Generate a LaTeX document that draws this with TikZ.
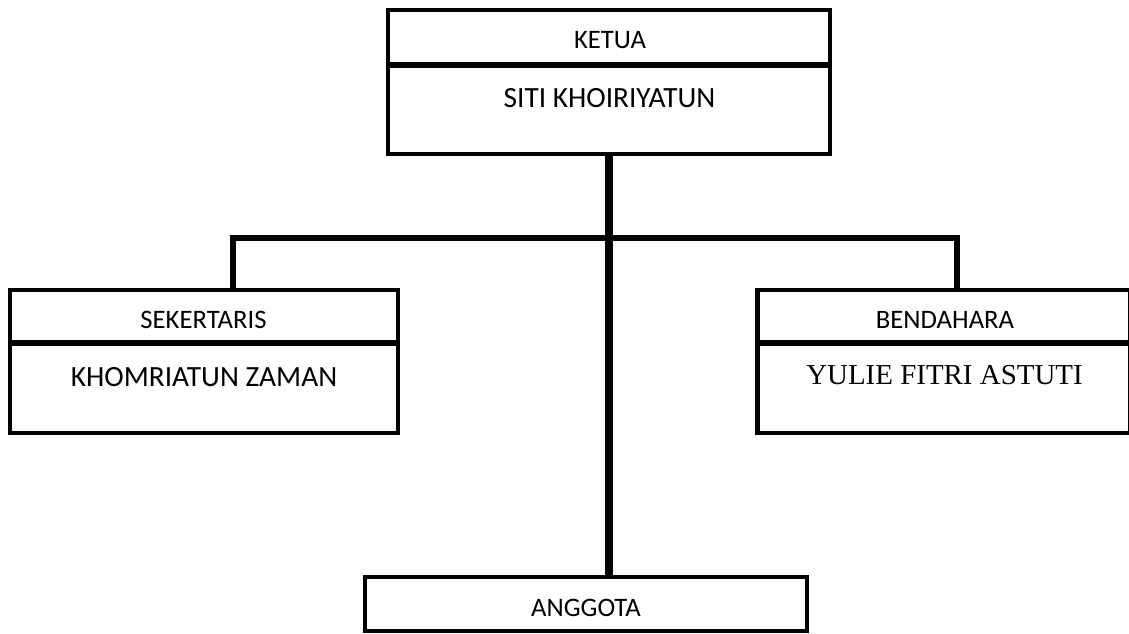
\documentclass[tikz,border=0pt]{standalone}
\usepackage{fontspec}
\setmainfont{Carlito}
\newfontfamily\timesf{Liberation Serif}
\usetikzlibrary{calc}
\tikzset{
  box/.style={draw, line width=3.4pt, rectangle, inner sep=0pt, line join=miter, minimum width=#1},
  divider/.style={line width=3.8pt},
  conn/.style={line width=5pt, line cap=rect},
  lab/.style={font=\fontsize{20}{23}\selectfont, inner sep=0pt, anchor=base},
  nm/.style={font=\fontsize{22}{25}\selectfont, inner sep=0pt, anchor=base}
}
\begin{document}
\begin{tikzpicture}[x=0.75pt,y=-0.75pt]
\useasboundingbox (0,0) rectangle (1129,633);
% boxes
\node[box=331.5pt, minimum height=108pt] (ketua) at (609,82) {};
\node[box=291pt, minimum height=107.25pt] (sek) at (204,361.5) {};
\node[box=280pt, minimum height=107.25pt] (ben) at (944,361.5) {};
\node[box=331.5pt, minimum height=40.5pt] (ang) at (586,604) {};
% dividers
\coordinate (kd) at (609,65);
\coordinate (sd) at (204,343);
\coordinate (bd) at (944,343);
\draw[divider] (ketua.west |- kd) -- (ketua.east |- kd);
\draw[divider] (sek.west |- sd) -- (sek.east |- sd);
\draw[divider] (ben.west |- bd) -- (ben.east |- bd);
% texts
\node[lab] (tketua) at (610,48.5) {KETUA};
\node[nm] (tsiti) at (609.5,107) {SITI KHOIRIYATUN};
\node[lab] (tsek) at (203.5,328.5) {SEKERTARIS};
\node[nm] (tkhom) at (204,386.5) {KHOMRIATUN ZAMAN};
\node[lab] (tben) at (945,328.5) {BENDAHARA};
\node[nm, font=\timesf\fontsize{21.7}{25}\selectfont] (tyul) at (944.5,384.5) {YULIE FITRI ASTUTI};
\node[lab] (tang) at (586,616.5) {ANGGOTA};
% connectors
\coordinate (bus) at (609,238);
\coordinate (sektop) at ($(sek.north)+(29,0)$);
\coordinate (bentop) at ($(ben.north)+(13,0)$);
\draw[line width=6pt] (ketua.south) -- (ketua.south |- ang.north);
\draw[conn, line cap=butt] (sektop) -- (sektop |- bus) -- (bentop |- bus) -- (bentop);
\end{tikzpicture}
\end{document}
